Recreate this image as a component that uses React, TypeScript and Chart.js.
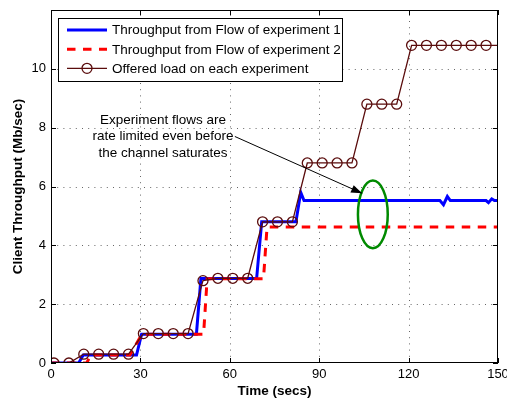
import React, { useEffect, useRef } from "react";
import { Chart, registerables } from "chart.js";

Chart.register(...registerables);

// ---- data ----
const loadTimes = [1, 6, 11, 16, 21, 26, 31, 36, 41, 46, 51, 56, 61, 66, 71, 76, 81, 86, 91, 96, 101, 106, 111, 116, 121, 126, 131, 136, 141, 146, 150];
const loadValues = [0, 0, 0.3, 0.3, 0.3, 0.3, 1.0, 1.0, 1.0, 1.0, 2.8, 2.88, 2.88, 2.88, 4.8, 4.8, 4.8, 6.8, 6.8, 6.8, 6.8, 8.8, 8.8, 8.8, 10.8, 10.8, 10.8, 10.8, 10.8, 10.8, 10.8];
const loadMarker = [1, 1, 1, 1, 1, 1, 1, 1, 1, 1, 1, 1, 1, 1, 1, 1, 1, 1, 1, 1, 1, 1, 1, 1, 1, 1, 1, 1, 1, 1, 0];

const flow1Times = [0, 9.3, 10.8, 28.7, 30.4, 48.8, 50.3, 69, 70.7, 82.2, 83.8, 84.9, 130.5, 131.7, 133, 134, 146, 146.8, 147.9, 148.8, 150];
const flow1Values = [0, 0, 0.27, 0.27, 0.98, 0.98, 2.87, 2.87, 4.8, 4.8, 5.8, 5.52, 5.52, 5.38, 5.66, 5.52, 5.52, 5.45, 5.58, 5.52, 5.52];

const flow2Times = [0, 12, 13.3, 26.5, 30.5, 51.2, 52.4, 71.3, 72.5, 150];
const flow2Values = [0, 0, 0.27, 0.27, 0.98, 0.98, 2.86, 2.86, 4.62, 4.62];

const xTicks = [0, 30, 60, 90, 120, 150];
const yTicks = [0, 2, 4, 6, 8, 10, 12];

const seriesLabels = [
  "Throughput from Flow of experiment 1",
  "Throughput from Flow of experiment 2",
  "Offered load on each experiment",
];
const annotationLines = ["Experiment flows are", "rate limited even before", "the channel saturates"];
const xTitle = "Time (secs)";
const yTitle = "Client Throughput (Mb/sec)";

const BLUE = "#0000ff";
const RED = "#ff0000";
const LOAD = "#5a0c0c";
const GREEN = "#008a00";
const FONT = "'Liberation Sans', Arial, sans-serif";

const toPts = (xs: number[], ys: number[]) => xs.map((x, i) => ({ x, y: ys[i] }));

const decor = {
  id: "decor",
  beforeDatasetsDraw(chart: any) {
    const { ctx, chartArea: a, scales } = chart;
    const xs = scales.x, ys = scales.y;
    ctx.save();
    ctx.strokeStyle = "rgba(0,0,0,0.6)";
    ctx.lineWidth = 1;
    ctx.setLineDash([1, 5.2]);
    xTicks.forEach((t) => {
      if (t <= xs.min || t >= xs.max) return;
      const px = Math.round(xs.getPixelForValue(t)) + 0.5;
      ctx.beginPath();
      ctx.moveTo(px, a.bottom);
      ctx.lineTo(px, a.top);
      ctx.stroke();
    });
    yTicks.forEach((t) => {
      if (t <= ys.min || t >= ys.max) return;
      const py = Math.round(ys.getPixelForValue(t)) + 0.5;
      ctx.beginPath();
      ctx.moveTo(a.left, py);
      ctx.lineTo(a.right, py);
      ctx.stroke();
    });
    ctx.restore();
  },
  afterDatasetsDraw(chart: any) {
    const { ctx, chartArea: a, scales } = chart;
    const xs = scales.x, ys = scales.y;
    const X = (v: number) => xs.getPixelForValue(v);
    const Y = (v: number) => ys.getPixelForValue(v);
    ctx.save();
    // frame
    ctx.strokeStyle = "#000";
    ctx.lineWidth = 1;
    ctx.setLineDash([]);
    ctx.strokeRect(Math.round(a.left) + 0.5, Math.round(a.top) + 0.5, Math.round(a.right - a.left) - 1, Math.round(a.bottom - a.top) - 1);
    // tick marks
    const tl = 5;
    xTicks.forEach((t) => {
      const px = Math.round(X(t)) + 0.5;
      ctx.beginPath();
      ctx.moveTo(px, a.bottom);
      ctx.lineTo(px, a.bottom - tl);
      ctx.moveTo(px, a.top);
      ctx.lineTo(px, a.top + tl);
      ctx.stroke();
    });
    yTicks.forEach((t) => {
      const py = Math.round(Y(t)) + 0.5;
      ctx.beginPath();
      ctx.moveTo(a.left, py);
      ctx.lineTo(a.left + tl, py);
      ctx.moveTo(a.right, py);
      ctx.lineTo(a.right - tl, py);
      ctx.stroke();
    });

    // green ellipse
    ctx.strokeStyle = GREEN;
    ctx.lineWidth = 2.5;
    ctx.beginPath();
    const cx = X(108), cy = Y(5.05);
    ctx.ellipse(cx, cy, Math.abs(X(113) - X(108)), Math.abs(Y(6.2) - Y(5.05)), 0, 0, Math.PI * 2);
    ctx.stroke();

    // annotation text
    ctx.fillStyle = "#000";
    ctx.font = `13.5px ${FONT}`;
    ctx.textAlign = "center";
    ctx.textBaseline = "middle";
    const tx = X(37.6), ty = Y(7.7);
    annotationLines.forEach((s, i) => ctx.fillText(s, tx, ty + (i - 1) * 16.5));

    // arrow
    const x1 = X(61.7), y1 = Y(7.7), x2 = X(104.4), y2 = Y(5.77);
    ctx.strokeStyle = "#000";
    ctx.lineWidth = 1;
    ctx.beginPath();
    ctx.moveTo(x1, y1);
    ctx.lineTo(x2, y2);
    ctx.stroke();
    const ang = Math.atan2(y2 - y1, x2 - x1);
    const hl = 11, hw = 4;
    ctx.beginPath();
    ctx.moveTo(x2, y2);
    ctx.lineTo(x2 - hl * Math.cos(ang) + hw * Math.sin(ang), y2 - hl * Math.sin(ang) - hw * Math.cos(ang));
    ctx.lineTo(x2 - hl * Math.cos(ang) - hw * Math.sin(ang), y2 - hl * Math.sin(ang) + hw * Math.cos(ang));
    ctx.closePath();
    ctx.fillStyle = "#000";
    ctx.fill();

    // legend
    const lx = a.left + 7, ly = a.top + 7.5, lw = 284, lh = 63;
    ctx.fillStyle = "#fff";
    ctx.fillRect(lx, ly, lw, lh);
    ctx.strokeStyle = "#000";
    ctx.lineWidth = 1;
    ctx.strokeRect(Math.round(lx) + 0.5, Math.round(ly) + 0.5, lw, lh);
    const rows = [ly + 12.5, ly + 31.8, ly + 50.8];
    const sx1 = lx + 9, sx2 = lx + 49;
    ctx.strokeStyle = BLUE;
    ctx.lineWidth = 3;
    ctx.beginPath();
    ctx.moveTo(sx1, rows[0]);
    ctx.lineTo(sx2, rows[0]);
    ctx.stroke();
    ctx.strokeStyle = RED;
    ctx.setLineDash([8.5, 7.5]);
    ctx.beginPath();
    ctx.moveTo(sx1, rows[1]);
    ctx.lineTo(sx2, rows[1]);
    ctx.stroke();
    ctx.setLineDash([]);
    ctx.strokeStyle = LOAD;
    ctx.lineWidth = 1.3;
    ctx.beginPath();
    ctx.moveTo(sx1, rows[2]);
    ctx.lineTo(sx2, rows[2]);
    ctx.stroke();
    ctx.beginPath();
    ctx.arc((sx1 + sx2) / 2, rows[2], 5, 0, Math.PI * 2);
    ctx.stroke();
    ctx.fillStyle = "#000";
    ctx.font = `13.5px ${FONT}`;
    ctx.textAlign = "left";
    ctx.textBaseline = "middle";
    seriesLabels.forEach((s, i) => ctx.fillText(s, lx + 54, rows[i] + 0.5));

    // axis titles
    ctx.font = `bold 13.5px ${FONT}`;
    ctx.textAlign = "center";
    ctx.fillText(xTitle, (a.left + a.right) / 2, 391.5);
    ctx.save();
    ctx.translate(18.5, (a.top + a.bottom) / 2);
    ctx.rotate(-Math.PI / 2);
    ctx.fillText(yTitle, 0, 0);
    ctx.restore();
    ctx.restore();
  },
};

export default function App() {
  const ref = useRef<HTMLCanvasElement>(null);
  useEffect(() => {
    if (!ref.current) return;
    const chart = new Chart(ref.current, {
      type: "line",
      data: {
        datasets: [
          {
            label: seriesLabels[0],
            data: toPts(flow1Times, flow1Values),
            borderColor: BLUE,
            borderWidth: 3,
            pointRadius: 0,
            fill: false,
            order: 2,
          },
          {
            label: seriesLabels[1],
            data: toPts(flow2Times, flow2Values),
            borderColor: RED,
            borderWidth: 3,
            borderDash: [8.5, 7.5],
            pointRadius: 0,
            fill: false,
            order: 1,
          },
          {
            label: seriesLabels[2],
            data: toPts(loadTimes, loadValues),
            borderColor: LOAD,
            borderWidth: 1.3,
            pointRadius: loadMarker.map((m) => (m ? 5 : 0)),
            pointBorderColor: LOAD,
            pointBorderWidth: 1.3,
            pointBackgroundColor: "rgba(0,0,0,0)",
            fill: false,
            order: 0,
          },
        ],
      },
      options: {
        animation: false,
        responsive: false,
        maintainAspectRatio: false,
        layout: { padding: { left: 0, right: 9, top: 10, bottom: 0 } },
        plugins: { legend: { display: false }, tooltip: { enabled: false } },
        elements: { line: { tension: 0 } },
        scales: {
          x: {
            type: "linear",
            min: 0,
            max: 150,
            afterBuildTicks: (s: any) => {
              s.ticks = xTicks.map((v) => ({ value: v }));
            },
            afterFit: (s: any) => {
              s.height = 37;
              s.paddingLeft = 0;
              s.paddingRight = 0;
            },
            ticks: { color: "#000", font: { size: 13, family: FONT }, padding: 4, maxRotation: 0, autoSkip: false },
            grid: { display: false, drawTicks: false },
            border: { display: false },
          },
          y: {
            type: "linear",
            min: 0,
            max: 12,
            afterBuildTicks: (s: any) => {
              s.ticks = yTicks.map((v) => ({ value: v }));
            },
            afterFit: (s: any) => {
              s.width = 51;
              s.paddingTop = 0;
              s.paddingBottom = 0;
            },
            ticks: {
              color: "#000",
              font: { size: 13, family: FONT },
              padding: 5,
              autoSkip: false,
              callback: (v: any) => (v === 12 ? "" : String(v)),
            },
            grid: { display: false, drawTicks: false },
            border: { display: false },
          },
        },
      },
      plugins: [decor],
    });
    return () => chart.destroy();
  }, []);
  return (
    <div style={{ position: "absolute", left: 0, top: 0, width: 507, height: 400, background: "#fff" }}>
      <canvas ref={ref} width={507} height={400} style={{ width: 507, height: 400 }} />
    </div>
  );
}
